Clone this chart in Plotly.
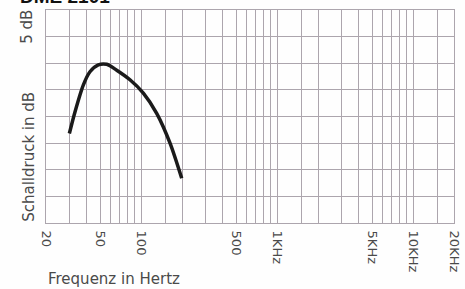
import plotly.graph_objects as go

# Frequency response curve (Hz, dB)
freq_hz = [29.7, 32.7, 37.6, 42.1, 48.5, 55.9, 66.2, 82.9, 103.9, 130.3, 163.3, 199]
level_db = [16.8, 20.9, 25.9, 28.4, 29.7, 29.8, 28.7, 26.9, 24.4, 20.6, 15.0, 8.4]

# grid frequencies and their labels
grid_freqs = [20, 30, 40, 50, 60, 70, 80, 90, 100, 150, 200, 300, 400, 500, 600, 700,
              800, 900, 1000, 1500, 2000, 3000, 4000, 5000, 6000, 7000, 8000, 9000,
              10000, 15000, 20000]
label_map = {20: "20", 50: "50", 100: "100", 500: "500", 1000: "1KHz",
             5000: "5KHz", 10000: "10KHz", 20000: "20KHz"}
grid_labels = [label_map.get(f, "") for f in grid_freqs]

db_ticks = [0, 5, 10, 15, 20, 25, 30, 35, 40]

grid_col = "#aca5ad"
txt_col = "#4a4a4a"
font_fam = "DejaVu Sans, sans-serif"

fig = go.Figure()
fig.add_trace(go.Scatter(x=freq_hz, y=level_db, mode="lines",
                         line=dict(color="#1a1a1a", width=3.5, shape="spline", smoothing=0.8),
                         hoverinfo="skip", showlegend=False))

fig.update_layout(
    width=465, height=289,
    margin=dict(l=46, r=11, t=10, b=66, autoexpand=False),
    paper_bgcolor="#fefefe", plot_bgcolor="#fefefe",
    font=dict(family=font_fam, color=txt_col),
    xaxis=dict(type="log", range=[1.30103, 4.30103], automargin=False,
               tickvals=grid_freqs, ticktext=grid_labels, tickangle=90,
               ticklabelstandoff=4,
               showgrid=True, gridcolor=grid_col, gridwidth=1,
               showline=True, linecolor=grid_col, mirror=True,
               ticks="", ticklen=0, tickfont=dict(size=13, color=txt_col), zeroline=False),
    yaxis=dict(range=[0, 40], tickvals=db_ticks, showticklabels=False, automargin=False,
               showgrid=True, gridcolor=grid_col, gridwidth=1,
               showline=True, linecolor=grid_col, mirror=True,
               ticks="", zeroline=False),
    annotations=[
        dict(text="Frequenz in Hertz", xref="paper", yref="paper", x=0.0, y=-0.263,
             xanchor="left", yanchor="middle", showarrow=False,
             font=dict(size=15, color=txt_col)),
        dict(text="Schalldruck in dB", xref="paper", yref="y", x=-0.042, y=12.4,
             xanchor="center", yanchor="middle", textangle=-90, showarrow=False,
             font=dict(size=15, color=txt_col)),
        dict(text="5 dB", xref="paper", yref="y", x=-0.047, y=36.8,
             xanchor="center", yanchor="middle", textangle=-90, showarrow=False,
             font=dict(size=15, color=txt_col)),
        dict(text="<b>DME 2101</b>", xref="paper", yref="paper", x=-0.068, y=1.005,
             xanchor="left", yanchor="bottom", showarrow=False,
             font=dict(size=19, color="#111111", family="Liberation Sans, Arial, sans-serif")),
    ],
)

fig.write_html("out.html", config={"displayModeBar": False},
               post_script="document.body.style.margin='0';document.body.style.overflow='hidden';")
